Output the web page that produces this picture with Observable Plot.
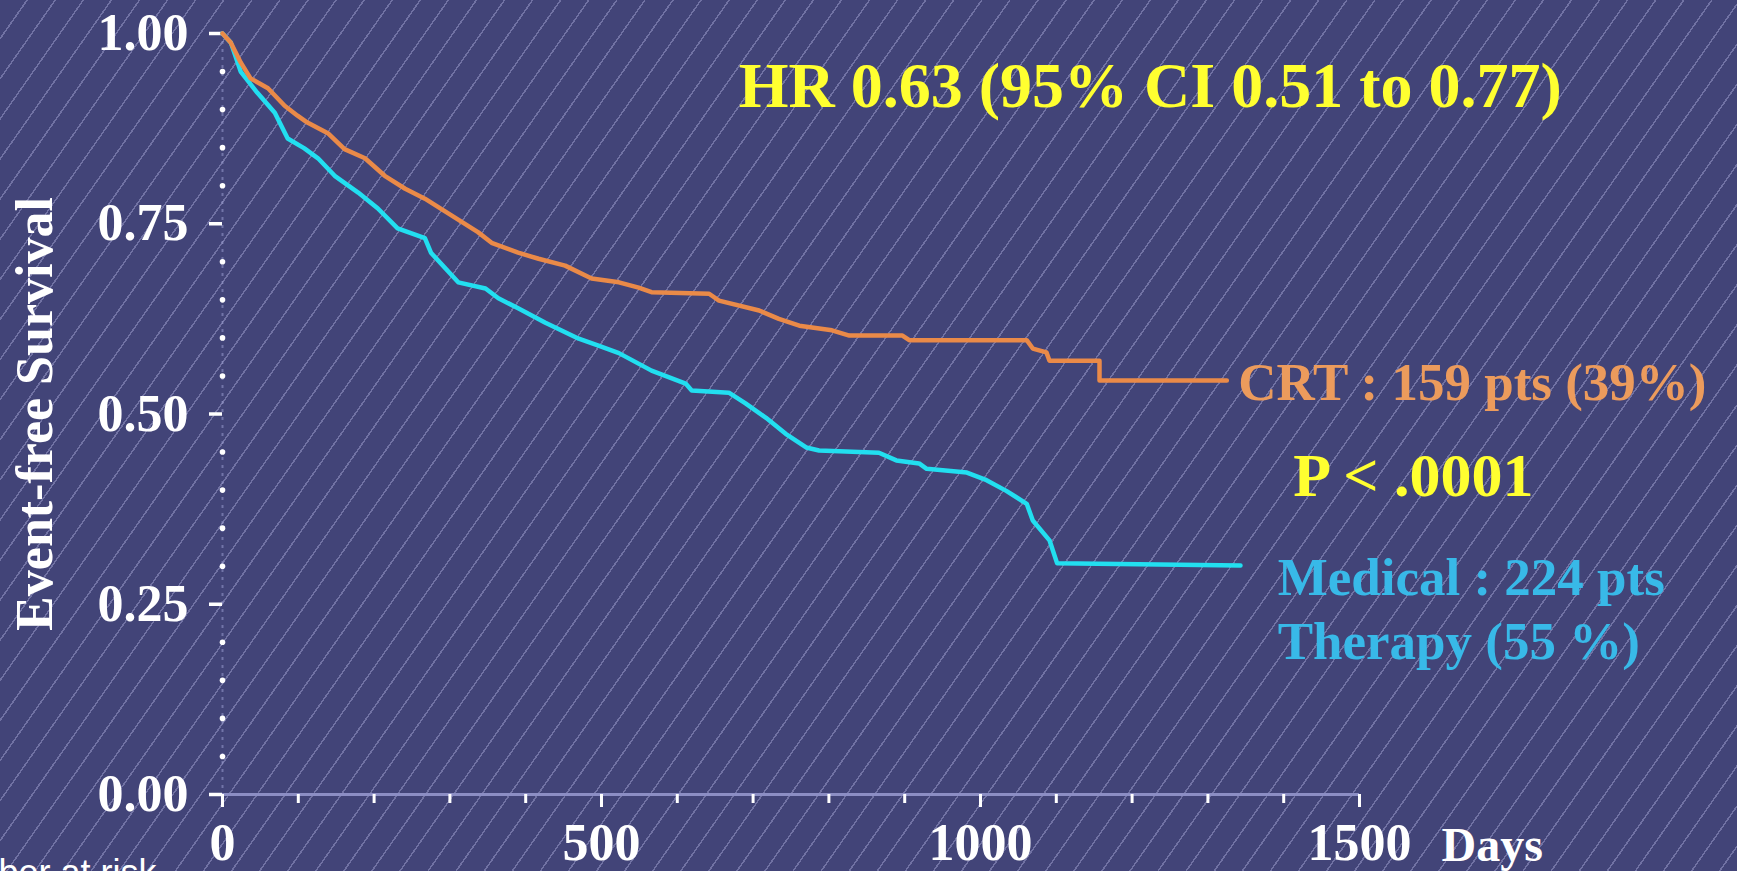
<!DOCTYPE html>
<html>
<head>
<meta charset="utf-8">
<script src="https://cdn.jsdelivr.net/npm/d3@7"></script>
<script src="https://cdn.jsdelivr.net/npm/@observablehq/plot@0.6"></script>
<style>
  html, body { margin: 0; padding: 0; width: 1737px; height: 871px; overflow: hidden; }
  body {
    background-color: #424478;
    background-image: repeating-linear-gradient(125deg, rgba(0,0,0,0) 0px, rgba(0,0,0,0) 21.5px, rgba(195,195,240,0.36) 21.5px, rgba(195,195,240,0.36) 23px);
  }
  #chart svg { display: block; }
</style>
</head>
<body>
<div id="chart"></div>
<script>
// Kaplan-Meier curves (days, event-free survival)
const crtDays = [0, 11, 24, 37, 60, 82, 99, 112, 139, 161, 188, 214, 241, 267, 302, 337, 355, 390, 417, 452, 487, 523, 549, 566, 642, 655, 708, 734, 761, 804, 827, 897, 906, 1061, 1069, 1087, 1091, 1157, 1157, 1325];
const crtSurv = [1.000, 0.988, 0.962, 0.941, 0.928, 0.905, 0.892, 0.883, 0.869, 0.848, 0.836, 0.813, 0.796, 0.783, 0.761, 0.739, 0.725, 0.712, 0.704, 0.695, 0.678, 0.673, 0.666, 0.660, 0.658, 0.649, 0.636, 0.625, 0.616, 0.610, 0.603, 0.603, 0.597, 0.597, 0.586, 0.581, 0.570, 0.570, 0.544, 0.544];

const medDays = [0, 11, 24, 46, 69, 86, 108, 126, 148, 179, 205, 231, 267, 275, 311, 347, 364, 390, 426, 470, 496, 523, 566, 611, 619, 668, 690, 717, 743, 770, 787, 866, 889, 919, 929, 982, 1008, 1034, 1061, 1069, 1091, 1101, 1343];
const medSurv = [1.000, 0.988, 0.950, 0.922, 0.896, 0.862, 0.849, 0.836, 0.813, 0.791, 0.770, 0.744, 0.731, 0.712, 0.673, 0.665, 0.652, 0.639, 0.620, 0.599, 0.590, 0.580, 0.557, 0.540, 0.531, 0.528, 0.514, 0.495, 0.474, 0.456, 0.452, 0.449, 0.439, 0.435, 0.428, 0.423, 0.413, 0.399, 0.382, 0.360, 0.334, 0.304, 0.301];

// Axis ticks
const xMajorTicks = [0, 500, 1000, 1500];
const xMinorTicks = [0, 100, 200, 300, 400, 500, 600, 700, 800, 900, 1000, 1100, 1200, 1300, 1400, 1500];
const yMajorTicks = [0, 0.25, 0.5, 0.75, 1];
const yMinorTicks = [0.05, 0.10, 0.15, 0.20, 0.30, 0.35, 0.40, 0.45, 0.55, 0.60, 0.65, 0.70, 0.80, 0.85, 0.90, 0.95];

// Texts
const yTitle = ["Event-free Survival"];
const xTitle = ["Days"];
const hrText = ["HR 0.63 (95% CI 0.51 to 0.77)"];
const crtLabel = ["CRT : 159 pts (39%)"];
const pText = ["P < .0001"];
const medLabel = ["Medical : 224 pts", "Therapy (55 %)"];
const riskText = ["Number at risk"];

const crt = crtDays.map((d, i) => ({day: d, s: crtSurv[i]}));
const med = medDays.map((d, i) => ({day: d, s: medSurv[i]}));

const ORANGE = "#ea8a48";
const CYAN = "#22dff0";
const YELLOW = "#ffff30";
const serif = "'Liberation Serif', 'Times New Roman', serif";

const plot = Plot.plot({
  width: 1737,
  height: 871,
  marginLeft: 222,
  marginRight: 378,
  marginTop: 33,
  marginBottom: 77,
  style: {background: "transparent", color: "white", fontFamily: serif, fontWeight: "bold", overflow: "visible"},
  x: {domain: [0, 1500]},
  y: {domain: [0, 1]},
  marks: [
    // axes lines
    Plot.ruleX([0], {stroke: "#9a9cd0", strokeOpacity: 0.55, strokeWidth: 2, strokeDasharray: "3,5"}),
    Plot.ruleY([0], {stroke: "#8c8ec4", strokeWidth: 3}),
    // minor y dots
    Plot.dot(yMinorTicks, {x: 0, y: d => d, r: 2.8, fill: "white", stroke: null}),
    // y axis
    Plot.axisY({ticks: yMajorTicks, tickFormat: d3.format(".2f"), tickSize: 13, tickPadding: 21, strokeWidth: 3.5, fontSize: 52, fontWeight: "bold", fill: "white", label: null}),
    // x axis minor ticks
    Plot.axisX({ticks: xMinorTicks, tickFormat: () => "", tickSize: 9, strokeWidth: 3, label: null, stroke: "white"}),
    // x axis major ticks + labels
    Plot.axisX({ticks: xMajorTicks, tickFormat: d => String(d), tickSize: 13, tickPadding: 16, strokeWidth: 3, fontSize: 52, fontWeight: "bold", fill: "white", label: null}),
    // curves
    Plot.line(med, {x: "day", y: "s", stroke: CYAN, strokeWidth: 4.5}),
    Plot.line(crt, {x: "day", y: "s", stroke: ORANGE, strokeWidth: 4.5}),
    // titles
    Plot.text(yTitle, {frameAnchor: "left", textAnchor: "middle", dx: -187, rotate: -90, text: d => d, fontSize: 52, fontWeight: "bold", fill: "white", fontFamily: serif}),
    Plot.text(xTitle, {x: 1500, y: 0, text: d => d, textAnchor: "start", dx: 82, dy: 51, fontSize: 48, fontWeight: "bold", fill: "white", fontFamily: serif}),
    // annotations
    Plot.text(hrText, {x: 681, y: 0.93, text: d => d, textAnchor: "start", fontSize: 64, fontWeight: "bold", fill: YELLOW, fontFamily: serif}),
    Plot.text(crtLabel, {x: 1340, y: 0.541, text: d => d, textAnchor: "start", fontSize: 53, fontWeight: "bold", fill: "#ec9b5c", fontFamily: serif}),
    Plot.text(pText, {x: 1571, y: 0.418, text: d => d, textAnchor: "middle", fontSize: 62, fontWeight: "bold", fill: YELLOW, fontFamily: serif}),
    Plot.text(medLabel, {x: 1392, y: (d, i) => [0.284, 0.2][i], text: d => d, textAnchor: "start", fontSize: 53, fontWeight: "bold", fill: "#38b9e8", fontFamily: serif}),
    Plot.text(riskText, {frameAnchor: "bottom-left", dx: -300, dy: 90, text: d => d, textAnchor: "start", fontSize: 36, fontWeight: "normal", fill: "white", fontFamily: "'Liberation Sans', Arial, sans-serif"})
  ]
});
document.getElementById("chart").appendChild(plot);
</script>
</body>
</html>
